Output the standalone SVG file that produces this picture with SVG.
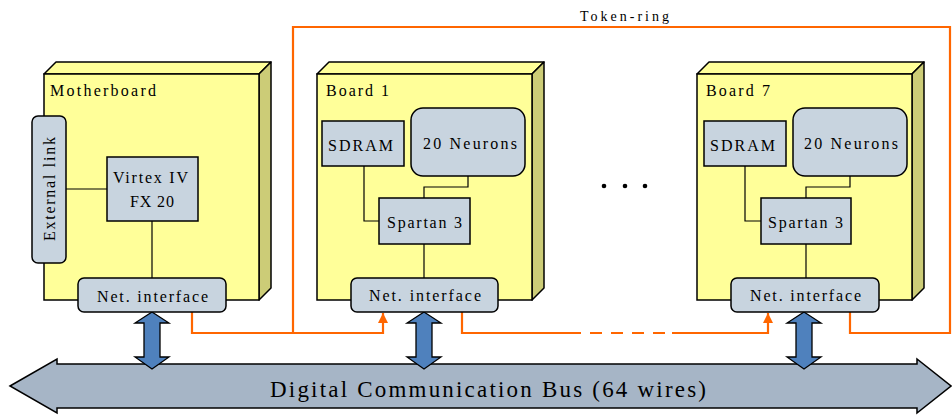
<svg xmlns="http://www.w3.org/2000/svg" width="952" height="415" viewBox="0 0 952 415">
<defs>
<style>
.front{fill:#ffff99;stroke:#000;stroke-width:1.5}
.top{fill:#ffff99;stroke:#000;stroke-width:1.5;stroke-linejoin:round}
.side{fill:#cccc77;stroke:#000;stroke-width:1.5;stroke-linejoin:round}
.comp{fill:#c8d4df;stroke:#000;stroke-width:1.5}
.wire{fill:none;stroke:#000;stroke-width:1.2}
.ring{fill:none;stroke:#ff6600;stroke-width:2.2}
.dbl{fill:#4f81bd;stroke:#000;stroke-width:1.3;stroke-linejoin:miter}
.bus{fill:#a6b5c6;stroke:#000;stroke-width:1.5}
text{font-family:"Liberation Serif","DejaVu Serif",serif;fill:#000}
.lbl{font-size:16px}
.mid{text-anchor:middle}
</style>
<marker id="oa" markerUnits="userSpaceOnUse" viewBox="0 0 10 10" refX="10" refY="5" markerWidth="11" markerHeight="10" orient="auto">
<path d="M0,0 L10,5 L0,10 z" fill="#ff6600"/>
</marker>
</defs>

<!-- Bus -->
<g id="bus">
<path class="bus" d="M10,386 L57,359 L57,364 L917,364 L917,359 L951,386 L917,413 L917,408 L57,408 L57,413 Z"/>
<text x="270" y="397" style="font-size:23px" textLength="436" lengthAdjust="spacing">Digital Communication Bus (64 wires)</text>
</g>

<!-- Boards -->
<g id="motherboard">
<polygon class="top" points="44,74 56,62 271,62 259,74"/>
<polygon class="side" points="259,74 271,62 271,288 259,300"/>
<rect class="front" x="44" y="74" width="215" height="226"/>
<text class="lbl" x="50" y="96" textLength="106" lengthAdjust="spacing">Motherboard</text>
</g>
<g id="board1">
<polygon class="top" points="317,74 329,62 544,62 532,74"/>
<polygon class="side" points="532,74 544,62 544,288 532,300"/>
<rect class="front" x="317" y="74" width="215" height="226"/>
<text class="lbl" x="326" y="96" textLength="63" lengthAdjust="spacing">Board 1</text>
</g>
<g id="board7">
<polygon class="top" points="697,74 709,62 924,62 912,74"/>
<polygon class="side" points="912,74 924,62 924,288 912,300"/>
<rect class="front" x="697" y="74" width="215" height="226"/>
<text class="lbl" x="706" y="96" textLength="64" lengthAdjust="spacing">Board 7</text>
</g>

<!-- Connectors -->
<g id="connectors">
<path class="wire" d="M66,189 L107,189"/>
<path class="wire" d="M152,221 L152,278"/>
<path class="wire" d="M364,166 L364,221 L379,221"/>
<path class="wire" d="M468,176 L468,187 L424,187 L424,198"/>
<path class="wire" d="M424,244 L424,278"/>
<path class="wire" d="M745,166 L745,221 L761,221"/>
<path class="wire" d="M850,176 L850,187 L806,187 L806,198"/>
<path class="wire" d="M806,244 L806,278"/>
<path class="ring" d="M293,333 L293,27 L950,27 L950,333 L850,333 L850,312"/>
<path class="ring" d="M192,312 L192,333 L383,333 L383,313" marker-end="url(#oa)"/>
<path class="ring" d="M462,312 L462,333 L581,333"/>
<path class="ring" d="M590,333 L665,333" stroke-dasharray="12 9"/>
<path class="ring" d="M672,333 L768,333 L768,313" marker-end="url(#oa)"/>
<path class="dbl" d="M152,312 L169,323 L160,323 L160,357 L169,357 L152,369 L135,357 L144,357 L144,323 L135,323 Z"/>
<path class="dbl" d="M424,312 L441,323 L432,323 L432,357 L441,357 L424,369 L407,357 L416,357 L416,323 L407,323 Z"/>
<path class="dbl" d="M804,312 L821,323 L812,323 L812,357 L821,357 L804,369 L787,357 L796,357 L796,323 L787,323 Z"/>
<text x="580" y="21" style="font-size:14px" textLength="89" lengthAdjust="spacing">Token-ring</text>
</g>

<g id="ellipsis">
<circle cx="604" cy="186" r="2.3"/>
<circle cx="625" cy="186" r="2.3"/>
<circle cx="645" cy="186" r="2.3"/>
</g>

<!-- Components -->
<g id="extlink">
<rect class="comp" x="32" y="116" width="34" height="147" rx="6"/>
<text class="lbl" transform="translate(55,241) rotate(-90)" textLength="104" lengthAdjust="spacing">External link</text>
</g>
<g id="virtex">
<rect class="comp" x="107" y="157" width="91" height="64"/>
<text class="lbl" x="113" y="183" textLength="75" lengthAdjust="spacing">Virtex IV</text>
<text class="lbl" x="130" y="207" textLength="44" lengthAdjust="spacing">FX 20</text>
</g>
<g id="net0">
<rect class="comp" x="78" y="278" width="148" height="34" rx="6"/>
<text class="lbl" x="97" y="302" textLength="111" lengthAdjust="spacing">Net. interface</text>
</g>

<g id="sdram1">
<rect class="comp" x="322" y="121" width="82" height="45"/>
<text class="lbl" x="328" y="151" textLength="65" lengthAdjust="spacing">SDRAM</text>
</g>
<g id="neurons1">
<rect class="comp" x="411" y="108" width="114" height="68" rx="12"/>
<text class="lbl" x="423" y="149" textLength="94" lengthAdjust="spacing">20 Neurons</text>
</g>
<g id="spartan1">
<rect class="comp" x="379" y="198" width="91" height="46"/>
<text class="lbl" x="387" y="228" textLength="75" lengthAdjust="spacing">Spartan 3</text>
</g>
<g id="net1">
<rect class="comp" x="351" y="278" width="147" height="34" rx="6"/>
<text class="lbl" x="369" y="301" textLength="112" lengthAdjust="spacing">Net. interface</text>
</g>

<g id="sdram7">
<rect class="comp" x="704" y="121" width="82" height="45"/>
<text class="lbl" x="710" y="151" textLength="65" lengthAdjust="spacing">SDRAM</text>
</g>
<g id="neurons7">
<rect class="comp" x="793" y="108" width="114" height="68" rx="12"/>
<text class="lbl" x="804" y="149" textLength="94" lengthAdjust="spacing">20 Neurons</text>
</g>
<g id="spartan7">
<rect class="comp" x="761" y="198" width="90" height="46"/>
<text class="lbl" x="768" y="228" textLength="75" lengthAdjust="spacing">Spartan 3</text>
</g>
<g id="net7">
<rect class="comp" x="731" y="278" width="148" height="34" rx="6"/>
<text class="lbl" x="750" y="301" textLength="111" lengthAdjust="spacing">Net. interface</text>
</g>
</svg>
